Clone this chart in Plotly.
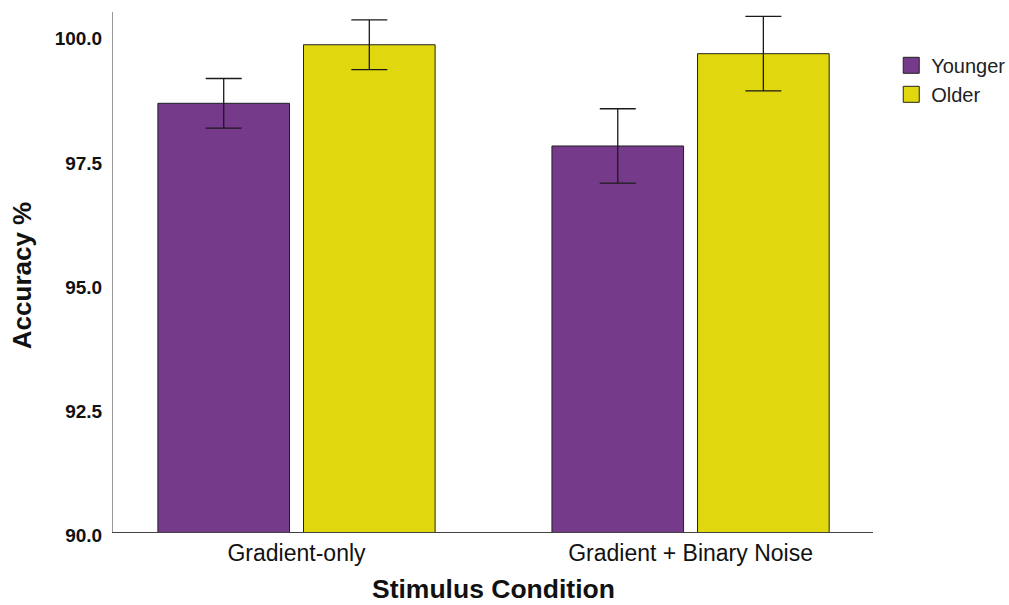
import plotly.graph_objects as go

categories = ["Gradient-only", "Gradient + Binary Noise"]
younger = [98.64, 97.78]
younger_err = [0.50, 0.75]
older = [99.82, 99.64]
older_err = [0.50, 0.75]
y_ticks = [90.0, 92.5, 95.0, 97.5, 100.0]
y_tick_labels = ["90.0", "92.5", "95.0", "97.5", "100.0"]
x_title = "Stimulus Condition"
y_title = "Accuracy %"

PURPLE = "#763A8B"
YELLOW = "#E1D70E"
FONT = "Liberation Sans"

fig = go.Figure()
for name, vals, errs, col in [("Younger", younger, younger_err, PURPLE),
                              ("Older", older, older_err, YELLOW)]:
    fig.add_trace(go.Bar(
        x=categories, y=vals, name=name, showlegend=False,
        marker=dict(color=col, line=dict(color="#222222", width=1)),
        error_y=dict(type="data", array=errs, visible=True,
                     color="#1a1a1a", thickness=1.3, width=18),
    ))
    # legend proxy
    fig.add_trace(go.Scatter(
        x=[None], y=[None], mode="markers", name=name,
        marker=dict(symbol="square", size=22, color=col,
                    line=dict(color="#222222", width=1)),
    ))

fig.update_layout(
    width=1009, height=605,
    margin=dict(l=113, r=136, t=12, b=73, autoexpand=False),
    paper_bgcolor="white", plot_bgcolor="white",
    barmode="group", bargap=0.261, bargroupgap=0.096,
    font=dict(family=FONT, color="#111111"),
    legend=dict(x=1.024, y=0.935, xanchor="left", yanchor="top",
                font=dict(family=FONT, size=20, color="#222222"),
                itemsizing="trace", tracegroupgap=0, itemwidth=30,
                bgcolor="rgba(0,0,0,0)"),
    showlegend=True,
    annotations=[
        dict(text="<b>%s</b>" % x_title, xref="paper", yref="paper",
             x=0.5, y=-0.109, xanchor="center", yanchor="middle", showarrow=False,
             borderpad=0,
             font=dict(family=FONT, size=26.5, color="#111111")),
        dict(text="<b>%s</b>" % y_title, xref="paper", yref="paper",
             x=-0.1197, y=0.492, xanchor="center", yanchor="middle", showarrow=False,
             textangle=-90, font=dict(family=FONT, size=26, color="#111111")),
    ],
)
fig.update_xaxes(
    range=[-0.4657, 1.463], showline=True, linecolor="#444444", linewidth=1,
    showgrid=False, zeroline=False, ticks="",
    tickfont=dict(family=FONT, size=23, color="#111111"),
)
fig.update_yaxes(
    range=[90, 100.48], showline=True, linecolor="#999999", linewidth=1,
    showgrid=False, zeroline=False, ticks="",
    tickvals=y_ticks, ticktext=["<b>%s</b>" % t for t in y_tick_labels],
    tickfont=dict(family=FONT, size=19, color="#111111"),
    ticklabelstandoff=6, ticklabelshift=3,
)

fig.write_html("out.html")
